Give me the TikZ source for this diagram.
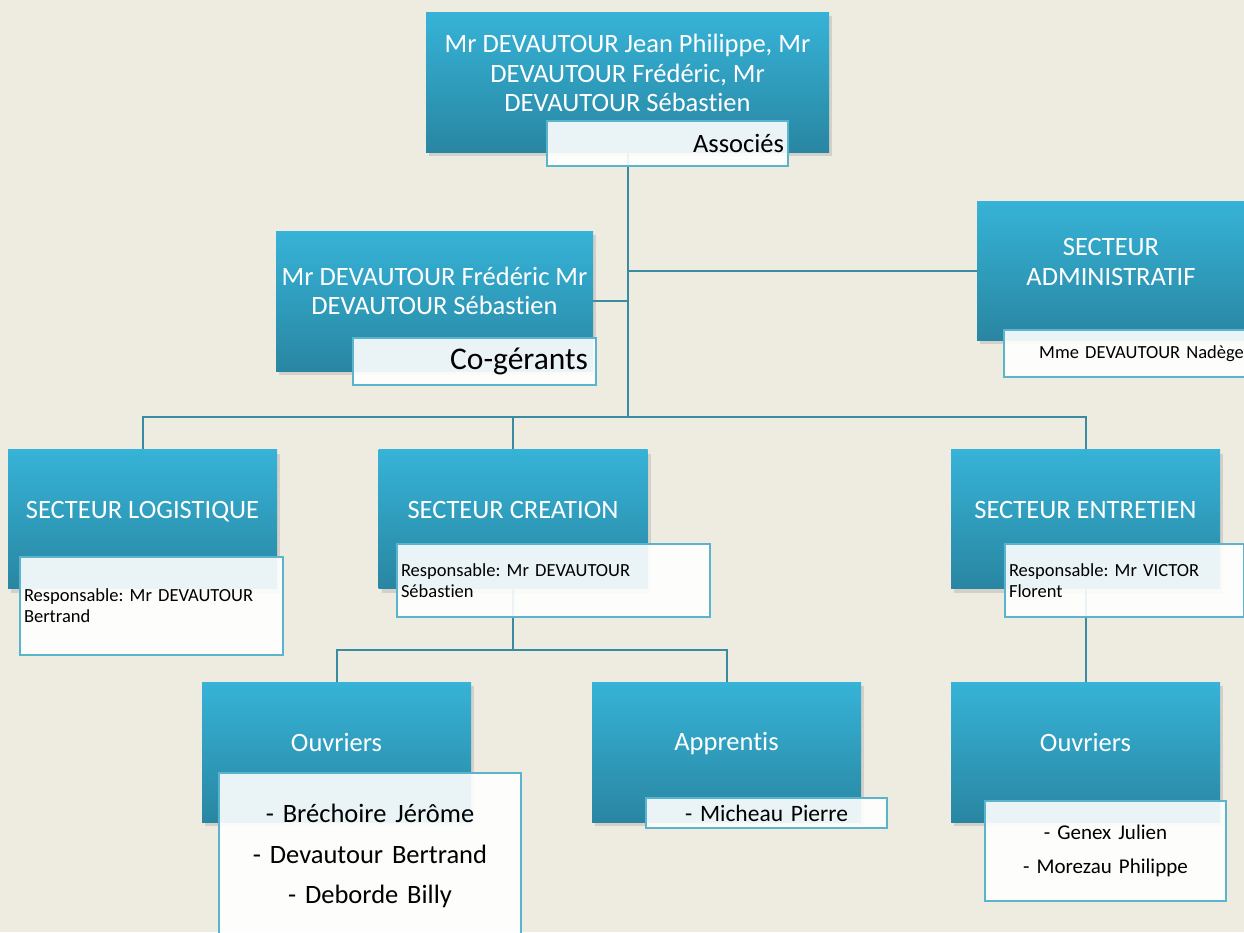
\documentclass[tikz,border=0pt]{standalone}
\usepackage{fontspec}
\setmainfont{Carlito}[Ligatures=CommonOff]
\usepackage{xcolor}
\usepackage{tikz}
\usetikzlibrary{positioning,shadows,backgrounds}
\frenchspacing

\definecolor{pagebg}{RGB}{238,235,225}
\definecolor{secttop}{RGB}{54,179,215}
\definecolor{sectbot}{RGB}{41,134,162}
\definecolor{tagline}{RGB}{90,180,206}
\definecolor{linkcol}{RGB}{58,138,160}

\begin{document}
\begin{tikzpicture}[
    x=1pt, y=-1pt,
    sector/.style={rectangle, minimum width=269pt, minimum height=139pt, inner sep=0pt,
        top color=secttop, bottom color=sectbot,
        drop shadow={shadow xshift=3pt, shadow yshift=-4pt, opacity=0.25}},
    sectortext/.style={text=white, align=center, yshift=10pt, font=\fontsize{26.5}{29.5}\selectfont},
    tag/.style={rectangle, draw=tagline, line width=1.5pt, fill=white, fill opacity=0.9, text opacity=1,
        inner xsep=4pt, inner ysep=0pt, text=black},
    smalltag/.style={tag, align=left, font=\fontsize{18.5}{21}\selectfont},
    link/.style={draw=linkcol, line width=2pt}
]
\useasboundingbox (0,0) rectangle (1244,932);

% Boxes
\node[sector, minimum width=403pt, minimum height=140pt] (top) at (627.5,82) {};
\node[sector, minimum width=317pt, minimum height=140pt] (cogr) at (434.5,301) {};
\node[sector, minimum width=268pt] (admin) at (1111,270.5) {};
\node[sector] (logi) at (142.5,519) {};
\node[sector] (crea) at (513,519) {};
\node[sector] (entr) at (1085.5,519) {};
\node[sector, minimum height=140pt] (ouv1) at (336.5,752) {};
\node[sector, minimum height=140pt] (appr) at (726.5,752) {};
\node[sector, minimum height=140pt] (ouv2) at (1085.5,752) {};

\node[sectortext, yshift=-1pt] (top-txt) at (top.center) {Mr DEVAUTOUR Jean Philippe, Mr\\ DEVAUTOUR Frédéric, Mr\\ DEVAUTOUR Sébastien};
\node[sectortext] (cogr-txt) at (cogr.center) {Mr DEVAUTOUR Frédéric Mr\\ DEVAUTOUR Sébastien};
\node[sectortext, yshift=-1.5pt] (admin-txt) at (admin.center) {SECTEUR\\ ADMINISTRATIF};
\node[sectortext, yshift=-3pt] (logi-txt) at (logi.center) {SECTEUR LOGISTIQUE};
\node[sectortext, yshift=-1pt] (crea-txt) at (crea.center) {SECTEUR CREATION};
\node[sectortext, yshift=-1pt] (entr-txt) at (entr.center) {SECTEUR ENTRETIEN};
\node[sectortext] (ouv1-txt) at (ouv1.center) {Ouvriers};
\node[sectortext, yshift=-2pt] (appr-txt) at (appr.center) {Apprentis};
\node[sectortext] (ouv2-txt) at (ouv2.center) {Ouvriers};

% Tags
\node[tag, text width=233pt, minimum height=45pt, align=right, font=\fontsize{26.5}{29}\selectfont] (top-tag) at (667.5,143.5) {Associés};
\node[tag, text width=235pt, minimum height=47pt, align=right, font=\fontsize{31.5}{34}\selectfont] (cogr-tag) at (474.5,361.5) {Co-gérants\hspace*{4pt}};
\node[tag, text width=267pt, minimum height=47pt, align=center, font=\fontsize{18.5}{21}\selectfont] (admin-tag) at (1141.5,353.5) {Mme DEVAUTOUR Nadège};
\node[smalltag, text width=255pt, minimum height=98pt] (logi-tag) at (151.5,606) {Responsable: Mr DEVAUTOUR\\ Bertrand};
\node[smalltag, text width=305pt, minimum height=73pt] (crea-tag) at (553.5,580.5) {Responsable: Mr DEVAUTOUR\\ Sébastien};
\node[smalltag, text width=231pt, minimum height=73pt] (entr-tag) at (1124.5,580.5) {Responsable: Mr VICTOR\\ Florent};
\node[tag, text width=294pt, minimum height=166pt, align=center, font=\fontsize{26.5}{40.5}\selectfont] (ouv1-tag) at (370,856) {- Bréchoire Jérôme\\ - Devautour Bertrand\\ - Deborde Billy};
\node[tag, text width=233pt, minimum height=30pt, align=center, font=\fontsize{23.5}{26}\selectfont] (appr-tag) at (766.5,813) {- Micheau Pierre};
\node[tag, text width=233pt, minimum height=100pt, align=center, font=\fontsize{21}{34}\selectfont] (ouv2-tag) at (1105.5,851) {- Genex Julien\\ - Morezau Philippe};

% Connectors
\coordinate (split) at (627.5,417);
\coordinate (crea-split) at (513,650);
\begin{scope}[on background layer]
\fill[pagebg] (0,0) rectangle (1244,932);
\draw[link] (top.south) -- (split);
\draw[link] (cogr.east) -- (cogr.east -| split);
\draw[link] (admin.west) -- (admin.west -| split);
\draw[link] (split) -| (logi.north);
\draw[link] (split) -| (entr.north);
\draw[link] (crea.north) -- (crea.north |- split);
\draw[link] (crea.south) -- (crea-split);
\draw[link] (crea-split) -| (ouv1.north);
\draw[link] (crea-split) -| (appr.north);
\draw[link] (entr.south) -- (ouv2.north);
\end{scope}

\end{tikzpicture}
\end{document}
